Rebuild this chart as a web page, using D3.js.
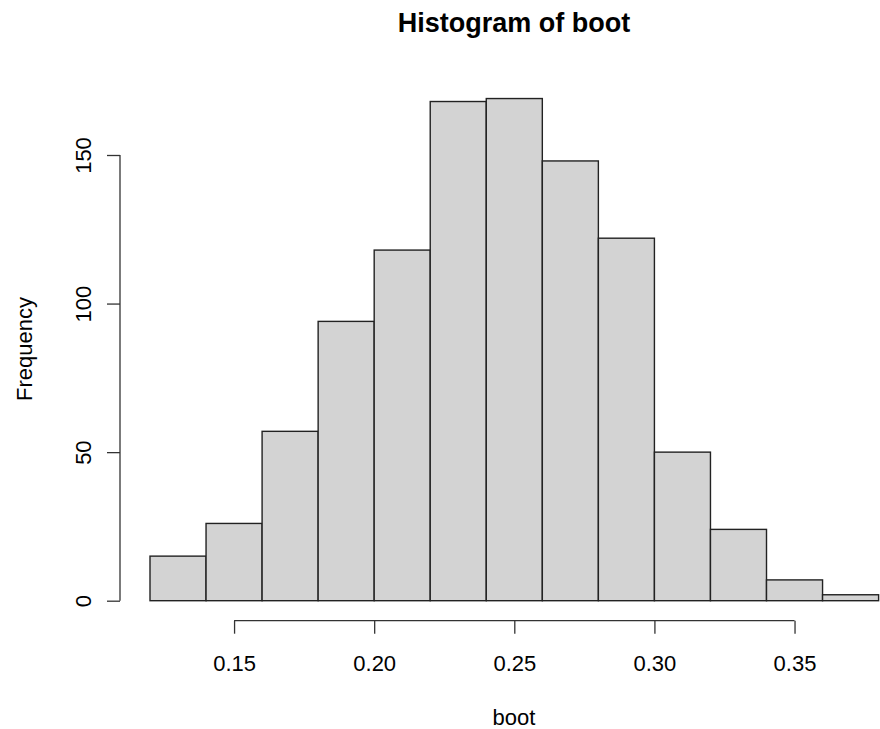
<!DOCTYPE html>
<html>
<head>
<meta charset="utf-8">
<script src="https://cdn.jsdelivr.net/npm/d3@7"></script>
<style>
  body { margin: 0; background: #fff; }
  text { font-family: "Liberation Sans", Arial, sans-serif; fill: #000; }
</style>
</head>
<body>
<svg id="chart" width="880" height="729"></svg>
<script>
// bin edges and counts of boot
var breaks = [0.12, 0.14, 0.16, 0.18, 0.20, 0.22, 0.24, 0.26, 0.28, 0.30, 0.32, 0.34, 0.36, 0.38];
var counts = [15, 26, 57, 94, 118, 168, 169, 148, 122, 50, 24, 7, 2];
var xTicks = [0.15, 0.20, 0.25, 0.30, 0.35];
var yTicks = [0, 50, 100, 150];

var svg = d3.select("#chart");

var x = d3.scaleLinear().domain([0.12, 0.38]).range([150, 878.6]);
var y = d3.scaleLinear().domain([0, 150]).range([600.7, 155]);

var bins = counts.map(function (c, i) {
  return {x0: breaks[i], x1: breaks[i + 1], n: c};
});

// bars
svg.append("g").selectAll("rect")
  .data(bins)
  .enter().append("rect")
  .attr("x", function (d) { return x(d.x0); })
  .attr("y", function (d) { return y(d.n); })
  .attr("width", function (d) { return x(d.x1) - x(d.x0); })
  .attr("height", function (d) { return y(0) - y(d.n); })
  .attr("fill", "#d3d3d3")
  .attr("stroke", "#222")
  .attr("stroke-width", 1.4);

// x axis (R style, detached)
var xAxis = svg.append("g")
  .attr("transform", "translate(0,620.7)")
  .call(d3.axisBottom(x).tickValues(xTicks).tickSize(13).tickSizeOuter(0)
    .tickFormat(d3.format(".2f")));
xAxis.select(".domain").attr("d", "M" + x(0.15) + ",0H" + x(0.35));
xAxis.selectAll("line, path").attr("stroke", "#333").attr("stroke-width", 1.3);
xAxis.selectAll("text")
  .attr("font-size", 22)
  .attr("dy", null)
  .attr("y", 50.5)
  .style("font-family", "Liberation Sans, Arial, sans-serif");

// y axis
var yAxis = svg.append("g")
  .attr("transform", "translate(120,0)")
  .call(d3.axisLeft(y).tickValues(yTicks).tickSize(13).tickSizeOuter(0));
yAxis.select(".domain").attr("d", "M0," + y(0) + "V" + y(150));
yAxis.selectAll("line, path").attr("stroke", "#333").attr("stroke-width", 1.3);
yAxis.selectAll(".tick text")
  .attr("font-size", 22)
  .attr("x", null)
  .attr("dy", null)
  .attr("text-anchor", "middle")
  .attr("transform", "translate(-29,0) rotate(-90)")
  .style("font-family", "Liberation Sans, Arial, sans-serif");

// titles
svg.append("text")
  .attr("x", 514)
  .attr("y", 32)
  .attr("text-anchor", "middle")
  .attr("font-size", 27)
  .attr("font-weight", "bold")
  .text("Histogram of boot");

svg.append("text")
  .attr("x", 514)
  .attr("y", 725)
  .attr("text-anchor", "middle")
  .attr("font-size", 22)
  .text("boot");

svg.append("text")
  .attr("transform", "translate(32,349) rotate(-90)")
  .attr("text-anchor", "middle")
  .attr("font-size", 22)
  .text("Frequency");
</script>
</body>
</html>
